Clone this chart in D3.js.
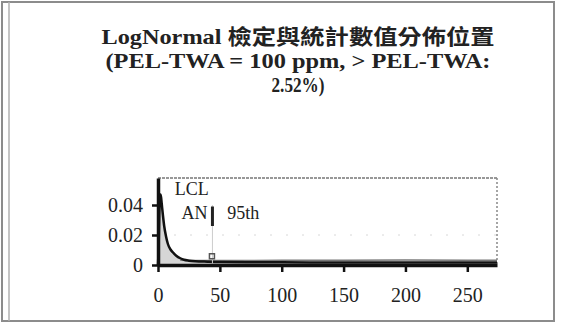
<!DOCTYPE html>
<html>
<head>
<meta charset="utf-8">
<script src="https://cdn.jsdelivr.net/npm/d3@7"></script>
<style>
  body { margin: 0; background: #fff; }
  svg { display: block; }
</style>
</head>
<body>
<div id="chart"></div>
<script>
// values
const titleLines = ["LogNormal 檢定與統計數值分佈位置", "(PEL-TWA = 100 ppm, > PEL-TWA:", "2.52%)"];
const xTicks = [0, 50, 100, 150, 200, 250];
const yTicks = [0, 0.02, 0.04];
const yTickLabels = ["0", "0.02", "0.04"];

// lognormal density curve
const curveX = [0, 0.5, 1, 1.5, 2, 2.5, 3, 4, 5, 6.5, 8, 10, 12, 15, 18, 21, 25, 30, 40, 50, 75, 100, 150, 200, 250, 274];
const curveY = [0, 0.012, 0.033, 0.044, 0.047, 0.045, 0.041, 0.033, 0.026, 0.019, 0.014, 0.0105, 0.0085, 0.006, 0.0045, 0.0035, 0.0029, 0.0025, 0.0022, 0.002, 0.0019, 0.0018, 0.0017, 0.0017, 0.0017, 0.0017];

// grey reference band near the bottom
const bandX = [18, 30, 50, 100, 150, 200, 250, 274];
const bandY = [0.0032, 0.003, 0.003, 0.0031, 0.0031, 0.0033, 0.0032, 0.0032];

// statistic labels
const statNames = ["LCL", "AN", "95th"];
const statX = [13.5, 19, 56];
const statY = [0.0465, 0.031, 0.031];
const p95 = 44;

const width = 576, height = 329;
const svg = d3.select("#chart").append("svg")
    .attr("width", width)
    .attr("height", height);

// outer frame
svg.append("rect")
    .attr("x", 2).attr("y", 2)
    .attr("width", 552).attr("height", 319)
    .attr("fill", "none")
    .attr("stroke", "#8c8c8c")
    .attr("stroke-width", 2);
svg.append("line")
    .attr("x1", 9).attr("x2", 9)
    .attr("y1", 2).attr("y2", 321)
    .attr("stroke", "#b0b0b0")
    .attr("stroke-width", 1.5);

// title
const titleWidths = [393, 385, 53];
titleLines.forEach((t, i) => {
    svg.append("text")
        .attr("x", 298)
        .attr("y", 44 + i * 24)
        .attr("text-anchor", "middle")
        .attr("font-family", "'Liberation Serif', 'Noto Sans CJK TC', serif")
        .attr("font-weight", "bold")
        .attr("font-size", "21px")
        .attr("fill", "#222")
        .attr("textLength", titleWidths[i])
        .attr("lengthAdjust", "spacingAndGlyphs")
        .text(t);
});

const x = d3.scaleLinear().domain([0, 274]).range([158, 497]);
const y = d3.scaleLinear().domain([0, 0.058]).range([265, 178]);

const font = "'Liberation Serif', serif";

// faint dotted grid at 0.02
svg.append("line")
    .attr("x1", x(0)).attr("x2", x(274))
    .attr("y1", y(0.02)).attr("y2", y(0.02))
    .attr("stroke", "#d8d8d8")
    .attr("stroke-dasharray", "2,14");

// plot frame top and right (dotted, grey)
svg.append("line")
    .attr("x1", x(0)).attr("x2", x(274))
    .attr("y1", y(0.058)).attr("y2", y(0.058))
    .attr("stroke", "#777")
    .attr("stroke-width", 1.5)
    .attr("stroke-dasharray", "3,1");
svg.append("line")
    .attr("x1", x(274)).attr("x2", x(274))
    .attr("y1", y(0.058)).attr("y2", y(0))
    .attr("stroke", "#888")
    .attr("stroke-width", 1.5)
    .attr("stroke-dasharray", "2,2");

const pts = curveX.map((v, i) => [v, curveY[i]]);

// light fill under the curve
svg.append("path")
    .datum(pts)
    .attr("d", d3.area().x(d => x(d[0])).y0(y(0)).y1(d => y(d[1])))
    .attr("fill", "#d6d6d6");

// grey band
svg.append("path")
    .datum(bandX.map((v, i) => [v, bandY[i]]))
    .attr("d", d3.line().x(d => x(d[0])).y(d => y(d[1])))
    .attr("fill", "none")
    .attr("stroke", "#777")
    .attr("stroke-width", 1.5);

// density curve
svg.append("path")
    .datum(pts)
    .attr("d", d3.line().curve(d3.curveMonotoneX).x(d => x(d[0])).y(d => y(d[1])))
    .attr("fill", "none")
    .attr("stroke", "#111")
    .attr("stroke-width", 2.5);

// 95th line
svg.append("line")
    .attr("x1", x(p95)).attr("x2", x(p95))
    .attr("y1", y(0)).attr("y2", y(0.04))
    .attr("stroke", "#ccc")
    .attr("stroke-width", 1);
svg.append("line")
    .attr("x1", x(p95)).attr("x2", x(p95))
    .attr("y1", y(0.026)).attr("y2", y(0.039))
    .attr("stroke", "#222")
    .attr("stroke-width", 3);
svg.append("rect")
    .attr("x", x(p95) - 3).attr("y", y(0.0075))
    .attr("width", 5).attr("height", 5)
    .attr("fill", "none")
    .attr("stroke", "#555")
    .attr("stroke-width", 1.5);

// stat labels
statNames.forEach((n, i) => {
    svg.append("text")
        .attr("x", x(statX[i]))
        .attr("y", y(statY[i]))
        .attr("font-family", font)
        .attr("font-size", "18px")
        .attr("fill", "#222")
        .text(n);
});

// axes
const xAxis = svg.append("g")
    .attr("transform", `translate(0,${y(0)})`)
    .call(d3.axisBottom(x).tickValues(xTicks).tickSize(7).tickSizeOuter(0));
const yAxis = svg.append("g")
    .attr("transform", `translate(${x(0)},0)`)
    .call(d3.axisLeft(y).tickValues(yTicks).tickFormat((d, i) => yTickLabels[i]).tickSize(6).tickSizeOuter(0));

[xAxis, yAxis].forEach(g => {
    g.select(".domain").attr("stroke", "#111").attr("stroke-width", 3.5);
    g.selectAll(".tick line").attr("stroke", "#111").attr("stroke-width", 2.5);
    g.selectAll(".tick text")
        .attr("font-family", font)
        .attr("font-size", "20px")
        .attr("fill", "#222");
});
xAxis.selectAll(".tick text").attr("dy", "1.35em");
yAxis.selectAll(".tick text").attr("x", -15);
</script>
</body>
</html>
